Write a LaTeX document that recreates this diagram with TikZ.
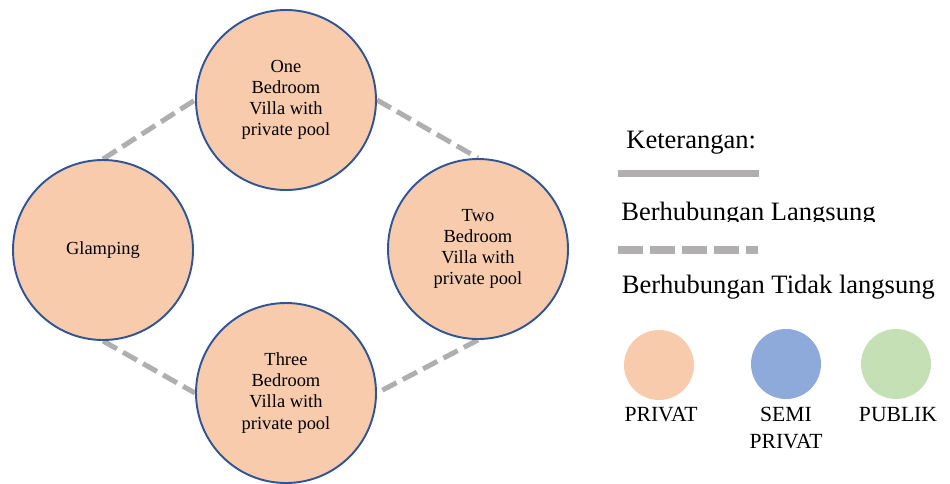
\documentclass[tikz,border=0pt]{standalone}
\usepackage{fontspec}
\setmainfont{Liberation Serif}
\usetikzlibrary{shapes.geometric, backgrounds}
\definecolor{privat}{HTML}{F8CBAD}
\definecolor{semiprivat}{HTML}{8EAADB}
\definecolor{publik}{HTML}{C5E0B4}
\definecolor{rim}{HTML}{2F5597}
\definecolor{link}{HTML}{B0AEAE}
\tikzstyle{zone} = [circle, minimum size=3.6cm, inner sep=0pt, fill=privat, draw=rim, line width=1.1pt, align=center, font=\fontsize{10.5}{12}\selectfont]
\tikzstyle{indirect} = [draw=link, line width=0.1cm, dash pattern=on 0.32cm off 0.14cm]
\tikzstyle{legendtext} = [inner sep=0pt, font=\fontsize{15.1}{17}\selectfont]
\tikzstyle{swatch} = [circle, minimum size=1.4cm, inner sep=0pt]
\tikzstyle{swatchlabel} = [inner sep=0pt, anchor=north, align=center, font=\fontsize{12.3}{15.3}\selectfont]

\begin{document}
\begin{tikzpicture}
    \useasboundingbox (0,0) rectangle (19,9.66);
    % the four zones
    \node [zone] at (5.72,7.66) (one) {One\\Bedroom\\Villa with\\private pool};
    \node [zone] at (2.06,4.66) (glamping) {Glamping};
    \node [zone] at (9.56,4.68) (two) {Two\\Bedroom\\Villa with\\private pool};
    \node [zone] at (5.72,1.80) (three) {Three\\Bedroom\\Villa with\\private pool};
    \begin{scope}[on background layer]
        \draw [indirect] (glamping.north) -- (one.west);
        \draw [indirect] (one.east) -- (two.north);
        \draw [indirect] (two.south) -- (three.east);
        \draw [indirect] (glamping.south) -- (three.west);
    \end{scope}
    % legend
    \node [legendtext, anchor=base west] at (12.52,6.70) (ket) {Keterangan:};
    \coordinate (solidA) at (12.36,6.19);
    \coordinate (solidB) at (15.18,6.19);
    \draw [draw=link, line width=0.14cm] (solidA) -- (solidB);
    \begin{scope}
        \clip (12,5.23) rectangle (19,6);
        \node [legendtext, anchor=base west] at (12.42,5.26) (direct) {Berhubungan Langsung};
    \end{scope}
    \coordinate (dashA) at (12.36,4.66);
    \coordinate (dashB) at (15.16,4.66);
    \draw [draw=link, line width=0.16cm, dash pattern=on 0.5cm off 0.14cm] (dashA) -- (dashB);
    \node [legendtext, anchor=base west] at (12.43,3.80) (indirectlabel) {Berhubungan Tidak langsung};
    \node [swatch, fill=privat] at (13.18,2.36) (sprivat) {};
    \node [swatch, fill=semiprivat] at (15.72,2.38) (ssemi) {};
    \node [swatch, fill=publik] at (17.92,2.38) (spublik) {};
    \node [swatchlabel] at (13.22,1.53) (lprivat) {PRIVAT};
    \node [swatchlabel] at (15.72,1.53) (lsemi) {SEMI\\PRIVAT};
    \node [swatchlabel] at (17.96,1.53) (lpublik) {PUBLIK};
\end{tikzpicture}
\end{document}
